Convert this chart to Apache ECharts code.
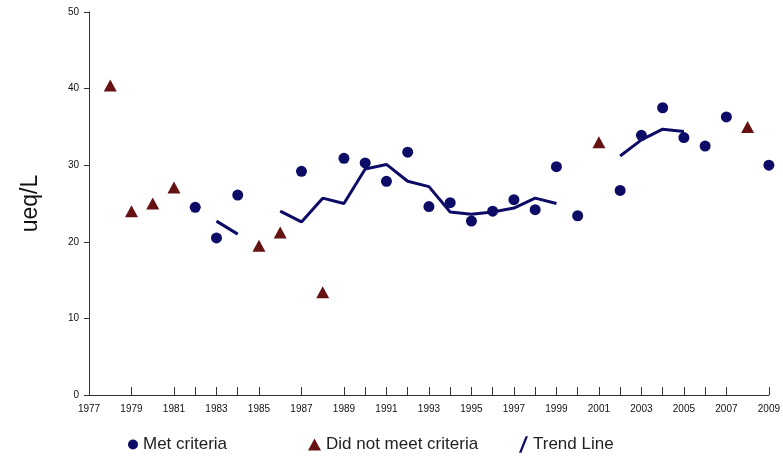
<!DOCTYPE html>
<html>
<head>
<meta charset="utf-8">
<script src="https://cdn.jsdelivr.net/npm/echarts@6/dist/echarts.min.js"></script>
<style>
  html, body { margin: 0; padding: 0; background: #ffffff; }
  #chart { width: 783px; height: 456px; }
</style>
</head>
<body>
<div id="chart"></div>
<script>
// Annual values (ueq/L)
const metYears = [1982, 1983, 1984, 1987, 1989, 1990, 1991, 1992, 1993, 1994, 1995, 1996,
                  1997, 1998, 1999, 2000, 2002, 2003, 2004, 2005, 2006, 2007, 2009];
const metValues = [24.5, 20.5, 26.1, 29.2, 30.9, 30.3, 27.9, 31.7, 24.6, 25.1, 22.7, 24.0,
                   25.5, 24.2, 29.8, 23.4, 26.7, 33.9, 37.5, 33.6, 32.5, 36.3, 30.0];

const missYears = [1978, 1979, 1980, 1981, 1985, 1986, 1988, 2001, 2008];
const missValues = [40.4, 24.0, 25.0, 27.1, 19.5, 21.2, 13.4, 33.0, 35.0];

// Trend line, broken where the running mean is undefined
const trendYears = [1983, 1984, 1985, 1986, 1987, 1988, 1989, 1990, 1991, 1992, 1993, 1994,
                    1995, 1996, 1997, 1998, 1999, 2000, 2001, 2002, 2003, 2004, 2005];
const trendValues = [22.7, 21.0, null, 24.0, 22.6, 25.7, 25.0, 29.5, 30.1, 27.9, 27.2, 23.9,
                     23.6, 23.9, 24.4, 25.7, 25.0, null, null, 31.2, 33.3, 34.7, 34.4];

// Axis ticks and labels
const xLabelYears = [1977, 1979, 1981, 1983, 1985, 1987, 1989, 1991, 1993, 1995, 1997, 1999,
                     2001, 2003, 2005, 2007, 2009];
const xTickYears = [1979, 1981, 1982, 1983, 1984, 1985, 1987, 1989, 1990, 1991, 1992, 1993,
                    1994, 1995, 1996, 1997, 1998, 1999, 2000, 2001, 2002, 2003, 2004, 2005,
                    2006, 2007, 2009];
const yTicks = [0, 10, 20, 30, 40, 50];

const NAVY = '#0c0c66';
const MAROON = '#661212';
const AXIS = '#333333';
const FONT = 'Arial, "Liberation Sans", sans-serif';

const pair = (xs, ys) => xs.map((x, i) => [x, ys[i]]);

const trendIcon = 'path://M0,20 L8,0 L11,0 L3,20 Z';

const legendBase = {
  top: 431,
  orient: 'horizontal',
  itemGap: 0,
  selectedMode: false,
  textStyle: { fontFamily: FONT, fontSize: 17, color: '#222222' }
};

const chart = echarts.init(document.getElementById('chart'), null, { renderer: 'canvas' });

chart.setOption({
  animation: false,
  backgroundColor: '#ffffff',
  grid: { left: 89, right: 12, top: 12, bottom: 61, containLabel: false },
  legend: [
    Object.assign({}, legendBase, {
      left: 123, itemWidth: 10, itemHeight: 10,
      data: [{ name: 'Met criteria', icon: 'circle' }]
    }),
    Object.assign({}, legendBase, {
      left: 303, itemWidth: 13, itemHeight: 12,
      data: [{ name: 'Did not meet criteria', icon: 'triangle' }]
    }),
    Object.assign({}, legendBase, {
      left: 514, itemWidth: 9, itemHeight: 17,
      data: [{ name: 'Trend Line', icon: trendIcon }]
    })
  ],
  xAxis: {
    type: 'value',
    min: 1977,
    max: 2009,
    interval: 1,
    axisLine: { show: true, onZero: false, lineStyle: { color: AXIS, width: 1 } },
    axisTick: {
      show: true, inside: true, length: 8,
      customValues: xTickYears,
      lineStyle: { color: AXIS }
    },
    axisLabel: {
      customValues: xLabelYears,
      showMinLabel: true, showMaxLabel: true,
      margin: 9,
      fontFamily: FONT, fontSize: 10, color: '#111111',
      formatter: v => String(v)
    },
    splitLine: { show: false }
  },
  yAxis: {
    type: 'value',
    min: 0,
    max: 50,
    interval: 10,
    name: 'ueq/L',
    nameLocation: 'middle',
    nameRotate: 90,
    nameGap: 47,
    nameTextStyle: { fontFamily: FONT, fontSize: 23, color: '#111111' },
    axisLine: { show: true, lineStyle: { color: AXIS, width: 1 } },
    axisTick: { show: true, inside: false, length: 5, lineStyle: { color: AXIS } },
    axisLabel: {
      customValues: yTicks,
      margin: 10,
      fontFamily: FONT, fontSize: 10, color: '#111111'
    },
    splitLine: { show: false }
  },
  series: [
    {
      name: 'Met criteria',
      type: 'scatter',
      symbol: 'circle',
      symbolSize: 11,
      itemStyle: { color: NAVY, opacity: 1 },
      data: pair(metYears, metValues),
      z: 3
    },
    {
      name: 'Did not meet criteria',
      type: 'scatter',
      symbol: 'triangle',
      symbolSize: [13, 12],
      itemStyle: { color: MAROON, opacity: 1 },
      data: pair(missYears, missValues),
      z: 3
    },
    {
      name: 'Trend Line',
      type: 'line',
      symbol: 'none',
      connectNulls: false,
      lineStyle: { color: NAVY, width: 3 },
      itemStyle: { color: NAVY },
      data: pair(trendYears, trendValues),
      z: 2
    }
  ]
});
</script>
</body>
</html>
